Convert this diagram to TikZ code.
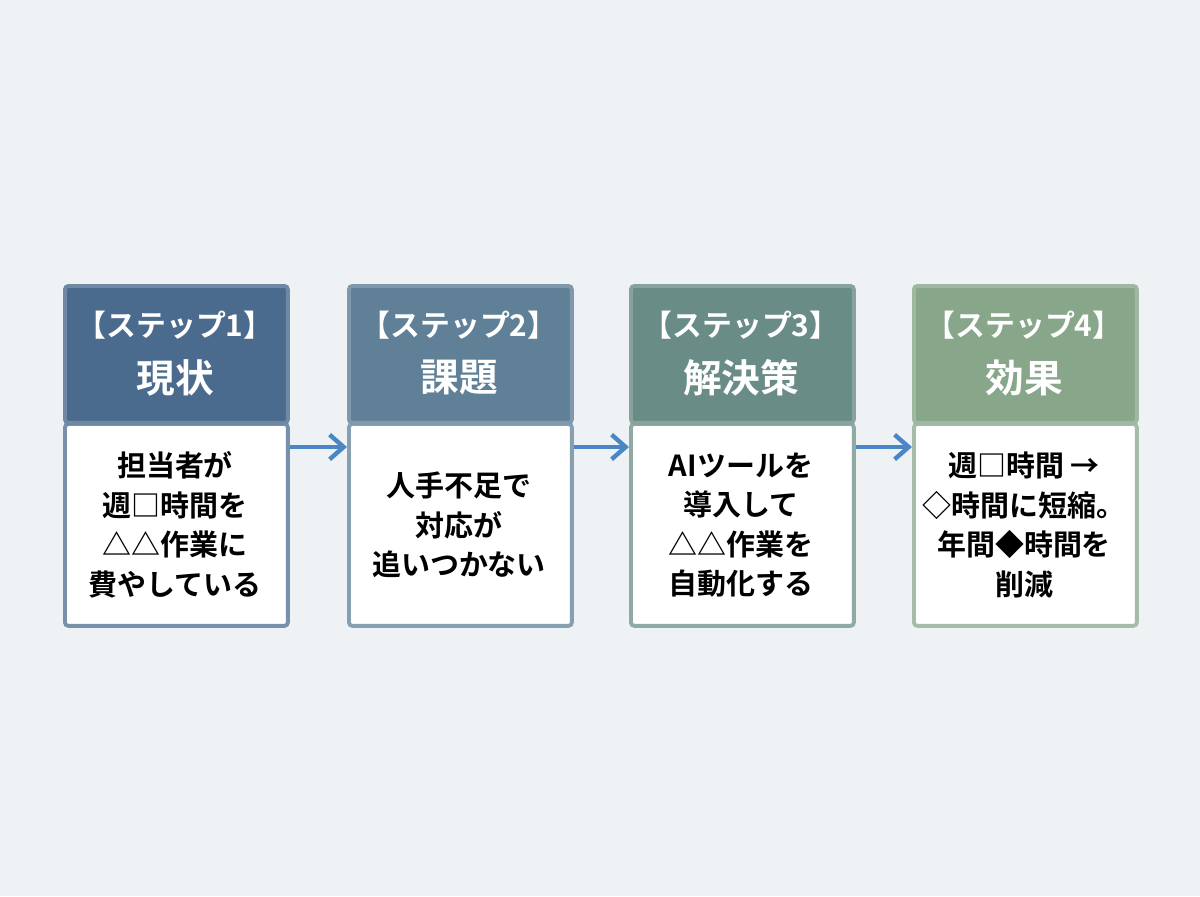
\documentclass[tikz,border=0pt]{standalone}
\usepackage{fontspec}
\setmainfont{Noto Sans CJK JP}[BoldFont={Noto Sans CJK JP Bold}]
\usetikzlibrary{arrows.meta}
\definecolor{bg}{HTML}{EEF2F4}
\definecolor{hA}{HTML}{4B6B8E}
\definecolor{hB}{HTML}{5F8097}
\definecolor{hC}{HTML}{6A8C86}
\definecolor{hD}{HTML}{87A68A}
\definecolor{arr}{HTML}{4A86C5}
\tikzset{
 hd/.style={draw=#1!80!white,line width=2.2pt,fill=#1,minimum width=4.46cm,minimum height=2.74cm,anchor=north west,inner sep=0pt,rounded corners=2pt},
 bd/.style={draw=#1!75!white,line width=2.2pt,fill=white,minimum width=4.46cm,minimum height=4.04cm,anchor=north west,inner sep=0pt,rounded corners=2pt},
 ht/.style={text=white,font=\bfseries\fontsize{17}{20}\selectfont,align=center},
 tt/.style={text=white,font=\bfseries\fontsize{22}{26}\selectfont},
 bt/.style={text=black,font=\bfseries\fontsize{16.5}{22.5}\selectfont,align=center},
 ar/.style={arr,line width=2.5pt,-{Straight Barb[length=8pt,width=14pt]}}
}
\begin{document}
\begin{tikzpicture}[x=0.02cm,y=-0.02cm]
\fill[bg] (0,0) rectangle (1200,896);
\useasboundingbox (0,0) rectangle (1200,896);
\foreach \i/\x/\c/\lab/\ttl/\body in {
 1/63/hA/【ステップ1】/現状/{担当者が\\週□時間を\\△△作業に\\費やしている},
 2/347/hB/【ステップ2】/課題/{人手不足で\\対応が\\追いつかない},
 3/629/hC/【ステップ3】/解決策/{AIツールを\\導入して\\△△作業を\\自動化する},
 4/912/hD/【ステップ4】/効果/{週□時間 →\\◇時間に短縮。\\年間◆時間を\\削減}}{
 \node[bd=\c] (b\i) at (\x,422) {};
 \node[hd=\c] (h\i) at (\x,284) {};
 \node[ht] (l\i) at (\x+112,325) {\lab};
 \node[tt] (t\i) at (\x+112,378) {\ttl};
 \node[bt] (x\i) at (\x+112,525) {\body};
}
\draw[ar] (b1.east|-0,447) -- (b2.west|-0,447);
\draw[ar] (b2.east|-0,447) -- (b3.west|-0,447);
\draw[ar] (b3.east|-0,447) -- (b4.west|-0,447);
\end{tikzpicture}
\end{document}
